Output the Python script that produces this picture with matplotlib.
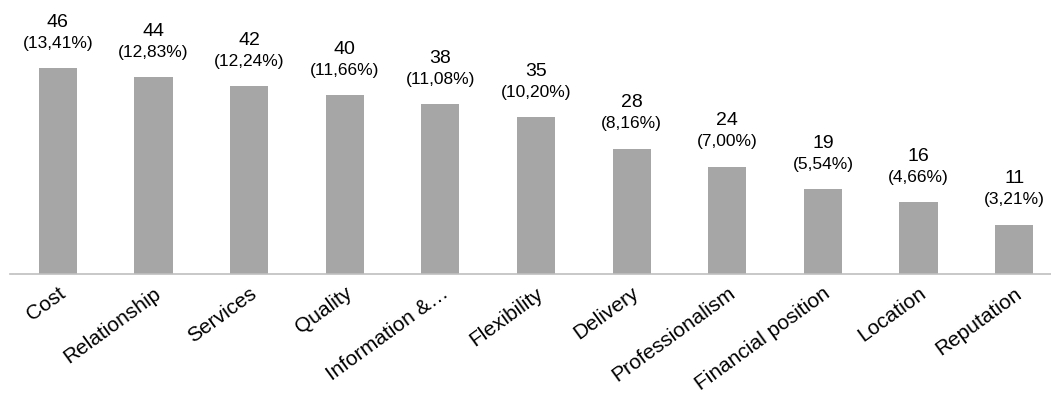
import matplotlib
matplotlib.use("Agg")
import matplotlib.pyplot as plt

plt.rcParams['font.family'] = ['Liberation Sans', 'DejaVu Sans']

categories = ["Cost", "Relationship", "Services", "Quality", "Information &\u2026",
              "Flexibility", "Delivery", "Professionalism", "Financial position",
              "Location", "Reputation"]
counts = [46, 44, 42, 40, 38, 35, 28, 24, 19, 16, 11]
percents = ["13,41%", "12,83%", "12,24%", "11,66%", "11,08%", "10,20%",
            "8,16%", "7,00%", "5,54%", "4,66%", "3,21%"]

fig = plt.figure(figsize=(10.51, 3.97), dpi=100)
ax = fig.add_axes([10 / 1051, 123 / 397, 1052 / 1051, 246 / 397])

x = range(len(categories))
ax.bar(x, counts, width=0.4, color="#A6A6A6")
ax.set_xlim(-0.5, len(categories) - 0.5)
ax.set_ylim(0, 55)

for i, (c, p) in enumerate(zip(counts, percents)):
    ax.annotate("(%s)" % p, (i, c), xytext=(0, 18), textcoords="offset points",
                ha="center", va="center", fontsize=12.5, clip_on=False)
    ax.annotate(str(c), (i, c), xytext=(0, 33), textcoords="offset points",
                ha="center", va="center", fontsize=14, clip_on=False)

for s in ["top", "right", "left"]:
    ax.spines[s].set_visible(False)
ax.spines["bottom"].set_color("#BFBFBF")
ax.spines["bottom"].set_linewidth(1.2)
ax.set_yticks([])
ax.set_xticks(list(x))
ax.set_xticklabels(categories, rotation=36, ha="right", va="top",
                   rotation_mode="anchor", fontsize=15)
ax.tick_params(axis="x", length=0, pad=7)

fig.savefig("out.png", dpi=100)
